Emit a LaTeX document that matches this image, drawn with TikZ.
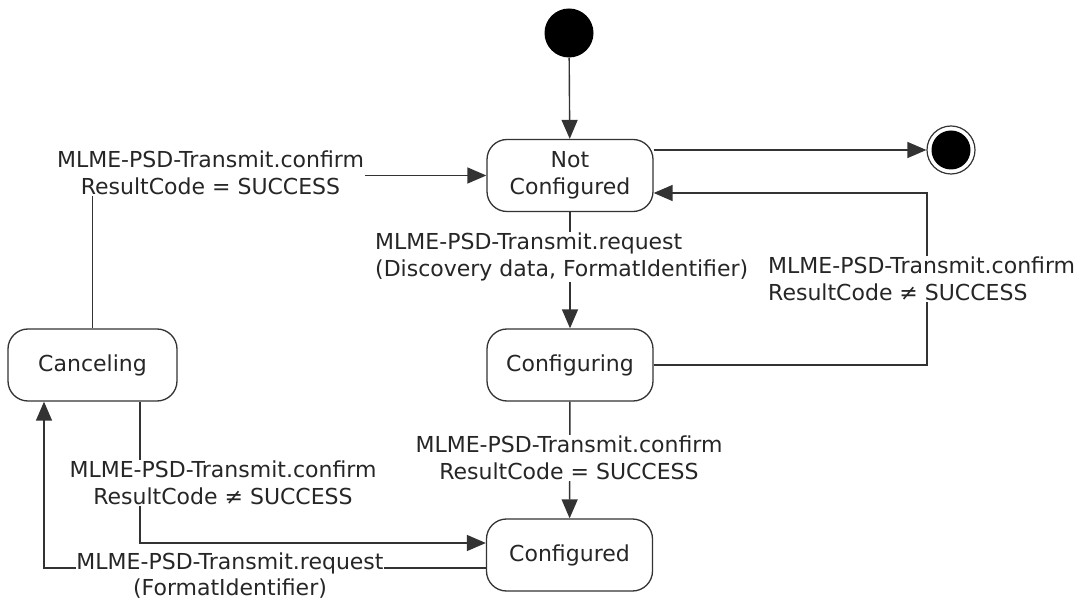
\documentclass[tikz,border=0pt]{standalone}
\usepackage{fontspec}
\setmainfont{DejaVu Sans}
\usetikzlibrary{arrows.meta}
\begin{document}
\begin{tikzpicture}[x=1pt,y=-1pt,
  every node/.style={font=\fontsize{22}{27}\selectfont, text=black!85},
  state/.style={draw=black!80, line width=1.3pt, rounded corners=20pt, minimum width=166pt, minimum height=72pt, align=center, inner sep=0pt},
  lbl/.style={fill=white, inner sep=1pt},
  conn/.style={draw=black!80, line width=1.4pt},
  arr/.style={conn, -{Triangle[length=19pt,width=16pt]}}
]
\useasboundingbox (0,0) rectangle (1079,601);
% states
\node[circle, fill=black, minimum size=49pt, inner sep=0pt] (init) at (569,33) {};
\node[state] (nc) at (570,175.5) {Not\\Configured};
\node[circle, draw=black!80, line width=1.2pt, minimum size=48pt, inner sep=0pt] (fin) at (951,150) {};
\node[circle, fill=black, minimum size=39pt, inner sep=0pt] (finin) at (fin) {};
\node[state] (cfg) at (570,365) {Configuring};
\node[state] (cfd) at (569.5,555) {Configured};
\node[state, minimum width=169pt] (can) at (92.5,365) {Canceling};
% connectors
\draw[arr] (init) -- (nc);
\draw[arr] ([yshift=25.5pt]nc.east) -- (fin.west);
\coordinate (rt) at (927,193);
\draw[arr] (cfg.east) -| (rt) -- ([yshift=-17.5pt]nc.east);
\node[lbl, anchor=west, align=left] (l1) at (767,279) {MLME-PSD-Transmit.confirm\\ResultCode ≠ SUCCESS};
\draw[arr] (nc) -- (cfg);
\node[lbl, anchor=west, align=left] (l2) at (374,257) {MLME-PSD-Transmit.request\\(Discovery data, FormatIdentifier)};
\draw[arr] (cfg) -- (cfd);
\node[lbl, align=center] (l3) at (569,458) {MLME-PSD-Transmit.confirm\\ResultCode = SUCCESS};
\draw[arr] (can.north) |- (nc.west);
\node[lbl, align=center] (l4) at (210.5,173) {MLME-PSD-Transmit.confirm\\ResultCode = SUCCESS};
\draw[arr] ([xshift=47.5pt]can.south) |- ([yshift=12pt]cfd.west);
\node[lbl, align=center] (l5) at (223,483) {MLME-PSD-Transmit.confirm\\ResultCode ≠ SUCCESS};
\draw[arr] ([yshift=-13pt]cfd.west) -| ([xshift=-48.5pt]can.south);
\node[lbl, align=center, inner sep=0.5pt, font=\fontsize{22}{25.5}\selectfont] (l6) at (230,575.5) {MLME-PSD-Transmit.request\\(FormatIdentifier)};
\end{tikzpicture}
\end{document}
